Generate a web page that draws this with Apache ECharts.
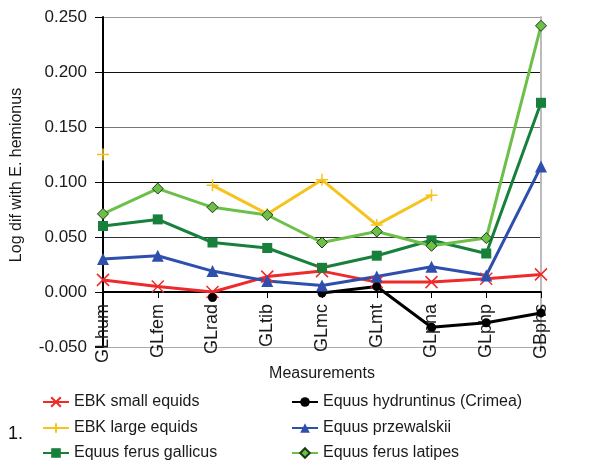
<!DOCTYPE html>
<html>
<head>
<meta charset="utf-8">
<script src="https://cdn.jsdelivr.net/npm/echarts@6/dist/echarts.min.js"></script>
<style>
html,body{margin:0;padding:0;background:#fff;}
#c{width:589px;height:463px;}
</style>
</head>
<body>
<div id="c"></div>
<script>
var categories = ['GLhum','GLfem','GLrad','GLtib','GLmc','GLmt','GLpha','GLphp','GBphs'];
var ebkSmall     = [0.011, 0.005, 0.000, 0.014, 0.019, 0.009, 0.009, 0.012, 0.016];
var ebkLarge     = [0.125, null, 0.097, 0.071, 0.102, 0.061, 0.088, null, null];
var hydruntinus  = [null, null, -0.005, null, -0.001, 0.005, -0.032, -0.028, -0.019];
var przewalskii  = [0.030, 0.033, 0.019, 0.010, 0.006, 0.014, 0.023, 0.015, 0.114];
var gallicus     = [0.060, 0.066, 0.045, 0.040, 0.022, 0.033, 0.047, 0.035, 0.172];
var latipes      = [0.071, 0.094, 0.077, 0.070, 0.045, 0.055, 0.042, 0.049, 0.242];
var yMin = -0.05, yMax = 0.25, yInterval = 0.05;

var FONT = '"Liberation Sans", Arial, sans-serif';
var crossPath = 'path://M0,0L10,10M10,0L0,10';
var plusPath = 'path://M5,0L5,10M0,5L10,5';

var GRID = { left: 103, right: 48, top: 17, bottom: 116 };
var plotH = 463 - GRID.top - GRID.bottom;
var zeroOffset = -((0 - yMin) / (yMax - yMin)) * plotH;

function series(name, data, color, symbol, size, extra) {
  var s = {
    name: name, type: 'line', data: data, connectNulls: false,
    symbol: symbol, symbolSize: size,
    lineStyle: { color: color, width: 3 },
    itemStyle: { color: color },
    emphasis: { disabled: true },
    animation: false
  };
  if (extra) { for (var k in extra) s[k] = extra[k]; }
  return s;
}

function legendItem(name, left, centerY) {
  return {
    orient: 'horizontal', left: left, top: centerY - 8, padding: 0,
    itemWidth: 26, itemHeight: 12, itemGap: 0,
    lineStyle: { width: 2 },
    textStyle: { fontSize: 16, color: '#1a1a1a', fontFamily: FONT, lineHeight: 18 },
    data: [name]
  };
}

var chart = echarts.init(document.getElementById('c'), null, { renderer: 'canvas' });
chart.setOption({
  backgroundColor: '#fff',
  textStyle: { fontFamily: FONT },
  animation: false,
  grid: { left: GRID.left, right: GRID.right, top: GRID.top, bottom: GRID.bottom, containLabel: false },
  graphic: [{
    type: 'text', x: 8, y: 434,
    style: { text: '1.', font: '18px ' + FONT, fill: '#111', verticalAlign: 'middle' }
  }],
  legend: [
    legendItem('EBK small equids', 42, 401),
    legendItem('EBK large equids', 42, 427),
    legendItem('Equus ferus gallicus', 42, 452),
    legendItem('Equus hydruntinus (Crimea)', 291, 401),
    legendItem('Equus przewalskii', 291, 427),
    legendItem('Equus ferus latipes', 291, 452)
  ],
  xAxis: {
    type: 'category', data: categories, boundaryGap: false,
    offset: zeroOffset,
    name: 'Measurements', nameLocation: 'middle', nameGap: 74, nameMoveOverlap: false,
    nameTextStyle: { fontSize: 16, color: '#1a1a1a', fontFamily: FONT },
    axisLine: { onZero: false, lineStyle: { color: '#000', width: 2 } },
    axisTick: { show: true, alignWithLabel: true, length: 6, lineStyle: { color: '#000' } },
    axisLabel: { rotate: 90, fontSize: 18, color: '#1a1a1a', margin: 12, interval: 0, fontFamily: FONT },
    splitLine: { show: false }
  },
  yAxis: [{
    type: 'value', min: yMin, max: yMax, interval: yInterval,
    name: 'Log dif with E. hemionus', nameLocation: 'middle', nameGap: 78, nameMoveOverlap: false,
    nameTextStyle: { fontSize: 16, color: '#1a1a1a', fontFamily: FONT, padding: [0, 0, 0, 14] },
    axisLine: { show: true, lineStyle: { color: '#000', width: 2 } },
    axisTick: { show: true, length: 8, lineStyle: { color: '#000' } },
    axisLabel: {
      fontSize: 17, color: '#1a1a1a', margin: 16, fontFamily: FONT,
      formatter: function (v) { return v.toFixed(3); }
    },
    splitLine: { show: true, lineStyle: { color: ['#aaa', '#000', '#333', '#111', '#777', '#111', '#999'], width: 1 } }
  }, {
    type: 'value', position: 'right', min: yMin, max: yMax, interval: yInterval,
    axisLine: { show: true, lineStyle: { color: '#bbb', width: 2 } },
    axisTick: { show: false }, axisLabel: { show: false }, splitLine: { show: false }
  }],
  series: [
    series('EBK small equids', ebkSmall, '#ee2a2a', crossPath, 12,
      { itemStyle: { color: 'rgba(0,0,0,0)', borderColor: '#ee2a2a', borderWidth: 1.5 } }),
    series('Equus hydruntinus (Crimea)', hydruntinus, '#000000', 'circle', 9),
    series('EBK large equids', ebkLarge, '#f6c31c', plusPath, 12,
      { itemStyle: { color: 'rgba(0,0,0,0)', borderColor: '#f6c31c', borderWidth: 1.5 } }),
    series('Equus przewalskii', przewalskii, '#2f4fad', 'triangle', 12),
    series('Equus ferus gallicus', gallicus, '#17813c', 'rect', 10),
    series('Equus ferus latipes', latipes, '#6cc04a', 'diamond', 11,
      { itemStyle: { color: '#6cc04a', borderColor: '#1c3a12', borderWidth: 1 } })
  ]
});
</script>
</body>
</html>
